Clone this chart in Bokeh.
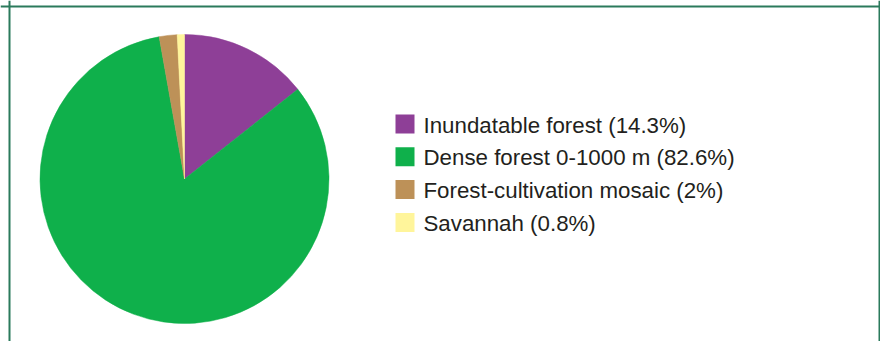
import math
from bokeh.plotting import figure
from bokeh.models import Range1d, Span, ColumnDataSource
from bokeh.core.properties import value
from bokeh.embed import file_html
from bokeh.resources import INLINE

categories = ["Inundatable forest", "Dense forest 0-1000 m", "Forest-cultivation mosaic", "Savannah"]
percent_labels = ["14.3%", "82.6%", "2%", "0.8%"]
values = [14.3, 82.6, 2.0, 0.8]
colors = ["#8E3F97", "#0FB04B", "#BD9158", "#FFF59B"]

# data units = pixels, y measured from the bottom of the figure
W, H = 880, 341
p = figure(width=W, height=H, output_backend="svg", toolbar_location=None,
           x_range=Range1d(0, W), y_range=Range1d(0, H), min_border=0,
           outline_line_color=None, background_fill_color="white",
           border_fill_color="white")
p.axis.visible = False
p.grid.visible = False

total = sum(values)
starts, ends = [], []
cum = 0.0
for v in values:
    starts.append(math.pi / 2 - cum / total * 2 * math.pi)
    cum += v
    ends.append(math.pi / 2 - cum / total * 2 * math.pi)

src = ColumnDataSource(dict(start=starts, end=ends, color=colors))
p.wedge(x=184, y=H - 178.5, radius=144.5, start_angle="start", end_angle="end",
        direction="clock", fill_color="color", line_color="color", line_width=0.5,
        source=src)

# legend
sq_center = [H - (123.5 + 32.8 * i) for i in range(len(categories))]
labels = [f"{c} ({pl})" for c, pl in zip(categories, percent_labels)]
lsrc = ColumnDataSource(dict(y=sq_center, yt=[y - 1 for y in sq_center], color=colors, label=labels))
p.rect(x=404.5, y="y", width=19, height=19, fill_color="color", line_color=None, source=lsrc)
p.text(x=423, y="yt", text="label", text_font=value("Liberation Sans"),
       text_font_size="22.3px", text_color="#231F20", text_baseline="middle",
       source=lsrc)

# frame (left, top, right)
border_color = "#2B7A5C"
p.add_layout(Span(location=9, dimension="height", line_color=border_color, line_width=2))
p.add_layout(Span(location=H - 6, dimension="width", line_color=border_color, line_width=2))
p.add_layout(Span(location=879, dimension="height", line_color=border_color, line_width=2))

open("out.html", "w").write(file_html(p, INLINE))
